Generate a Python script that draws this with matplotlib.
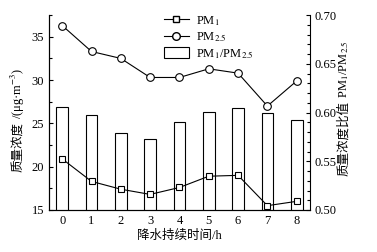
import matplotlib
matplotlib.use("Agg")
import matplotlib.pyplot as plt
from matplotlib.ticker import MultipleLocator
from matplotlib.patches import Patch
from matplotlib.lines import Line2D

hours = [0, 1, 2, 3, 4, 5, 6, 7, 8]
pm1 = [20.9, 18.3, 17.4, 16.8, 17.6, 18.9, 19.0, 15.5, 16.0]
pm25 = [36.3, 33.3, 32.5, 30.3, 30.3, 31.3, 30.8, 27.0, 29.9]
ratio = [0.606, 0.597, 0.579, 0.573, 0.590, 0.601, 0.605, 0.600, 0.592]

plt.rcParams['font.family'] = ['Liberation Serif', 'Noto Sans CJK SC']
plt.rcParams['mathtext.fontset'] = 'stix'
plt.rcParams['font.size'] = 9

fig = plt.figure(figsize=(3.77, 2.52), dpi=100)
ax = fig.add_axes([0.130, 0.1667, 0.692, 0.7733])
ax2 = ax.twinx()
ax.set_zorder(ax2.get_zorder() + 1)
ax.patch.set_visible(False)

ax2.bar(hours, ratio, width=0.4, color='white', edgecolor='black', linewidth=0.8)
ax2.set_ylim(0.50, 0.70)
ax2.yaxis.set_major_locator(MultipleLocator(0.05))
ax2.yaxis.set_minor_locator(MultipleLocator(0.01))
ax2.set_yticks([0.50, 0.55, 0.60, 0.65, 0.70])
ax2.set_yticklabels(['0.50', '0.55', '0.60', '0.65', '0.70'])

ax.plot(hours, pm1, color='black', lw=0.8, marker='s', ms=5, mfc='white', mec='black', mew=0.8)
ax.plot(hours, pm25, color='black', lw=0.8, marker='o', ms=5.5, mfc='white', mec='black', mew=0.8)
ax.set_ylim(15, 37.5)
ax.set_xlim(-0.45, 8.45)
ax.set_xticks(hours)
ax.yaxis.set_major_locator(MultipleLocator(5))
ax.yaxis.set_minor_locator(MultipleLocator(2.5))

for a in (ax, ax2):
    a.spines['top'].set_visible(False)
    for s in a.spines.values():
        s.set_linewidth(0.8)
    a.tick_params(direction='in', which='both', length=3, width=0.8, labelsize=9)
    a.tick_params(which='minor', length=2)
ax.tick_params(axis='x', length=0)
ax.spines['right'].set_visible(False)

ax.set_xlabel('降水持续时间/h', fontsize=9, labelpad=2)

# left y label: Chinese part + math part
split_l = 0.515
fig.text(0.048, split_l, '质量浓度', rotation=90, ha='center', va='top', fontsize=9)
fig.text(0.048, split_l, ' /(μg·m$^{-3}$)', rotation=90, ha='center', va='bottom', fontsize=9)
# right y label
split_r = 0.600
fig.text(0.912, split_r, '质量浓度比值', rotation=90, ha='center', va='top', fontsize=9)
fig.text(0.912, split_r, ' PM$_1$/PM$_{2.5}$', rotation=90, ha='center', va='bottom', fontsize=9)

handles = [
    Line2D([], [], color='black', lw=0.8, marker='s', ms=5, mfc='white', mec='black'),
    Line2D([], [], color='black', lw=0.8, marker='o', ms=5.5, mfc='white', mec='black'),
    Patch(facecolor='white', edgecolor='black', linewidth=0.8),
]
labels = ['PM$_1$', 'PM$_{2.5}$', 'PM$_1$/PM$_{2.5}$']
ax.legend(handles, labels, loc='upper left', bbox_to_anchor=(0.42, 1.03), frameon=False,
          fontsize=9, handlelength=2.0, handleheight=1.0, handletextpad=0.6,
          labelspacing=0.2, borderaxespad=0)

fig.savefig('out.png', dpi=100)
